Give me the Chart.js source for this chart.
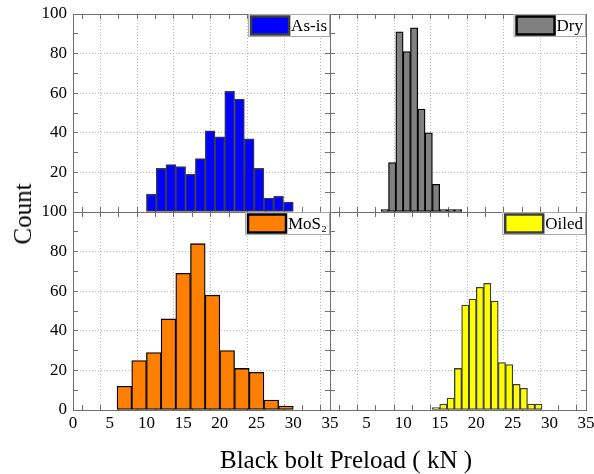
<!DOCTYPE html>
<html lang="en">
<head>
<meta charset="UTF-8">
<title>Black bolt preload histograms</title>
<script src="https://cdn.jsdelivr.net/npm/chart.js"></script>
<style>
  body { margin: 0; background: #fff; overflow: hidden; font-family: 'Liberation Serif', serif; }
  #wrap { position: relative; width: 594px; height: 474px; }
  #wrap canvas { position: absolute; left: 0; top: 0; }
  .ylab { position: absolute; left: 23px; top: 214px; transform: translate(-50%, -50%) rotate(-90deg); font-size: 25px; white-space: nowrap; }
  .xlab { position: absolute; left: 346px; top: 460px; transform: translate(-50%, -50%); font-size: 25px; white-space: nowrap; }
</style>
</head>
<body>
<div id="wrap">
  <canvas id="asis" width="594" height="474"></canvas>
  <canvas id="dry" width="594" height="474"></canvas>
  <canvas id="mos2" width="594" height="474"></canvas>
  <canvas id="oiled" width="594" height="474"></canvas>
  <div class="ylab">Count</div>
  <div class="xlab">Black bolt Preload ( kN )</div>
</div>
<script>
// bin centres (kN) and counts
const asisBins = [10.667, 12, 13.333, 14.667, 16, 17.333, 18.667, 20, 21.333, 22.667, 24, 25.333, 26.667, 28, 29.333];
const asisCounts = [9, 22, 24, 23, 19, 27, 41, 38, 61, 57, 37, 22, 7, 8, 5];

const dryBins = [7.5, 8.5, 9.5, 10.5, 11.5, 12.5, 13.5, 14.5, 15.5, 16.5, 17.5];
const dryCounts = [0, 25, 91, 81, 93, 52, 40, 14, 0, 0, 0];

const mos2Bins = [7, 9, 11, 13, 15, 17, 19, 21, 23, 25, 27, 29];
const mos2Counts = [12, 25, 29, 46, 69, 84, 58, 30, 21, 19, 5, 2];

const oiledBins = [14.5, 15.5, 16.5, 17.5, 18.5, 19.5, 20.5, 21.5, 22.5, 23.5, 24.5, 25.5, 26.5, 27.5, 28.5];
const oiledCounts = [0, 3, 6, 21, 53, 56, 62, 64, 55, 24, 23, 13, 11, 3, 3];

const xTickLabels = [0, 5, 10, 15, 20, 25, 30, 35];
const yTickLabels = [0, 20, 40, 60, 80, 100];

const W = 594, H = 474;
const AXIS = '#707070', GRID = '#b8b8b8';
const tickFont = { family: "'Liberation Serif', serif", size: 17 };

// small legend box in the top right corner of each panel
const panelLegend = {
  id: 'panelLegend',
  afterDatasetsDraw(chart) {
    const { ctx, chartArea } = chart;
    const ds = chart.data.datasets[0];
    ctx.save();
    ctx.font = "17px 'Liberation Serif', serif";
    const tw = ctx.measureText(ds.label).width;
    const h = 23, sw = 39;
    const w = sw + tw + 7;
    const x = chartArea.right - w, y = chartArea.top;
    ctx.fillStyle = '#fff';
    ctx.fillRect(x, y, w, h);
    ctx.strokeStyle = '#a8a8a8';
    ctx.lineWidth = 1;
    ctx.strokeRect(x + 0.5, y + 0.5, w - 1, h - 1);
    ctx.fillStyle = ds.backgroundColor;
    ctx.fillRect(x + 3, y + 2.5, sw - 1, h - 5);
    ctx.strokeStyle = ds.borderColor;
    ctx.lineWidth = 2.5;
    ctx.strokeRect(x + 3, y + 2.5, sw - 1, h - 5);
    ctx.fillStyle = '#000';
    ctx.textBaseline = 'middle';
    ctx.fillText(ds.label, x + sw + 4, y + h / 2 + 1);
    ctx.restore();
  }
};

function fix(prop, size) {
  return s => {
    s[prop] = size;
    s.paddingLeft = s.paddingRight = s.paddingTop = s.paddingBottom = 0;
  };
}

function xScale(position, size, labels, hide) {
  return {
    type: 'linear', position, min: 0, max: 35, offset: false,
    afterFit: fix('height', size),
    ticks: {
      stepSize: 2.5, autoSkip: false, maxRotation: 0, display: labels, padding: 8,
      color: '#000', font: tickFont,
      callback: v => (xTickLabels.includes(v) && !hide.includes(v)) ? v : ''
    },
    grid: {
      drawOnChartArea: position === 'bottom',
      color: c => (c.tick && c.tick.value % 5 === 0) ? GRID : 'transparent',
      tickLength: -5, tickColor: AXIS, tickWidth: 1
    },
    border: { color: AXIS, width: 1, dash: [1, 2] }
  };
}

function yScale(position, size, labels, hide) {
  return {
    type: 'linear', position, min: 0, max: 100,
    afterFit: fix('width', size),
    ticks: {
      stepSize: 10, autoSkip: false, display: labels, padding: 11,
      color: '#000', font: tickFont,
      callback: v => (yTickLabels.includes(v) && !hide.includes(v)) ? v : ''
    },
    grid: {
      drawOnChartArea: position === 'left',
      color: c => (c.tick && c.tick.value % 20 === 0) ? GRID : 'transparent',
      tickLength: -5, tickColor: AXIS, tickWidth: 1
    },
    border: { color: AXIS, width: 1, dash: [1, 2] }
  };
}

function panel(id, label, bins, counts, fill, edge, area, opts) {
  new Chart(document.getElementById(id), {
    type: 'bar',
    data: {
      datasets: [{
        label,
        data: bins.map((x, i) => ({ x, y: counts[i] })),
        backgroundColor: fill,
        borderColor: edge,
        borderWidth: 1.3,
        borderSkipped: false,
        minBarLength: 2.5,
        barPercentage: 1,
        categoryPercentage: 1
      }]
    },
    options: {
      responsive: false,
      animation: false,
      events: [],
      layout: { padding: 0 },
      plugins: { legend: { display: false }, tooltip: { enabled: false } },
      scales: {
        x: xScale('bottom', H - area.b, opts.xLabels, opts.hideX),
        xTop: xScale('top', area.t, false, []),
        y: yScale('left', area.l, opts.yLabels, opts.hideY),
        yRight: yScale('right', W - area.r, false, [])
      }
    },
    plugins: [panelLegend]
  });
}

panel('asis', 'As-is', asisBins, asisCounts, '#0000ff', '#3c3c3c',
  { l: 73, t: 14, r: 330, b: 212 }, { xLabels: false, yLabels: true, hideX: [], hideY: [0] });
panel('dry', 'Dry', dryBins, dryCounts, '#808080', '#000000',
  { l: 330, t: 14, r: 586, b: 212 }, { xLabels: false, yLabels: false, hideX: [], hideY: [] });
panel('mos2', 'MoS₂', mos2Bins, mos2Counts, '#ff8000', '#000000',
  { l: 73, t: 212, r: 330, b: 410 }, { xLabels: true, yLabels: true, hideX: [], hideY: [] });
panel('oiled', 'Oiled', oiledBins, oiledCounts, '#ffff00', '#3c3c3c',
  { l: 330, t: 212, r: 586, b: 410 }, { xLabels: true, yLabels: false, hideX: [0], hideY: [] });
</script>
</body>
</html>
